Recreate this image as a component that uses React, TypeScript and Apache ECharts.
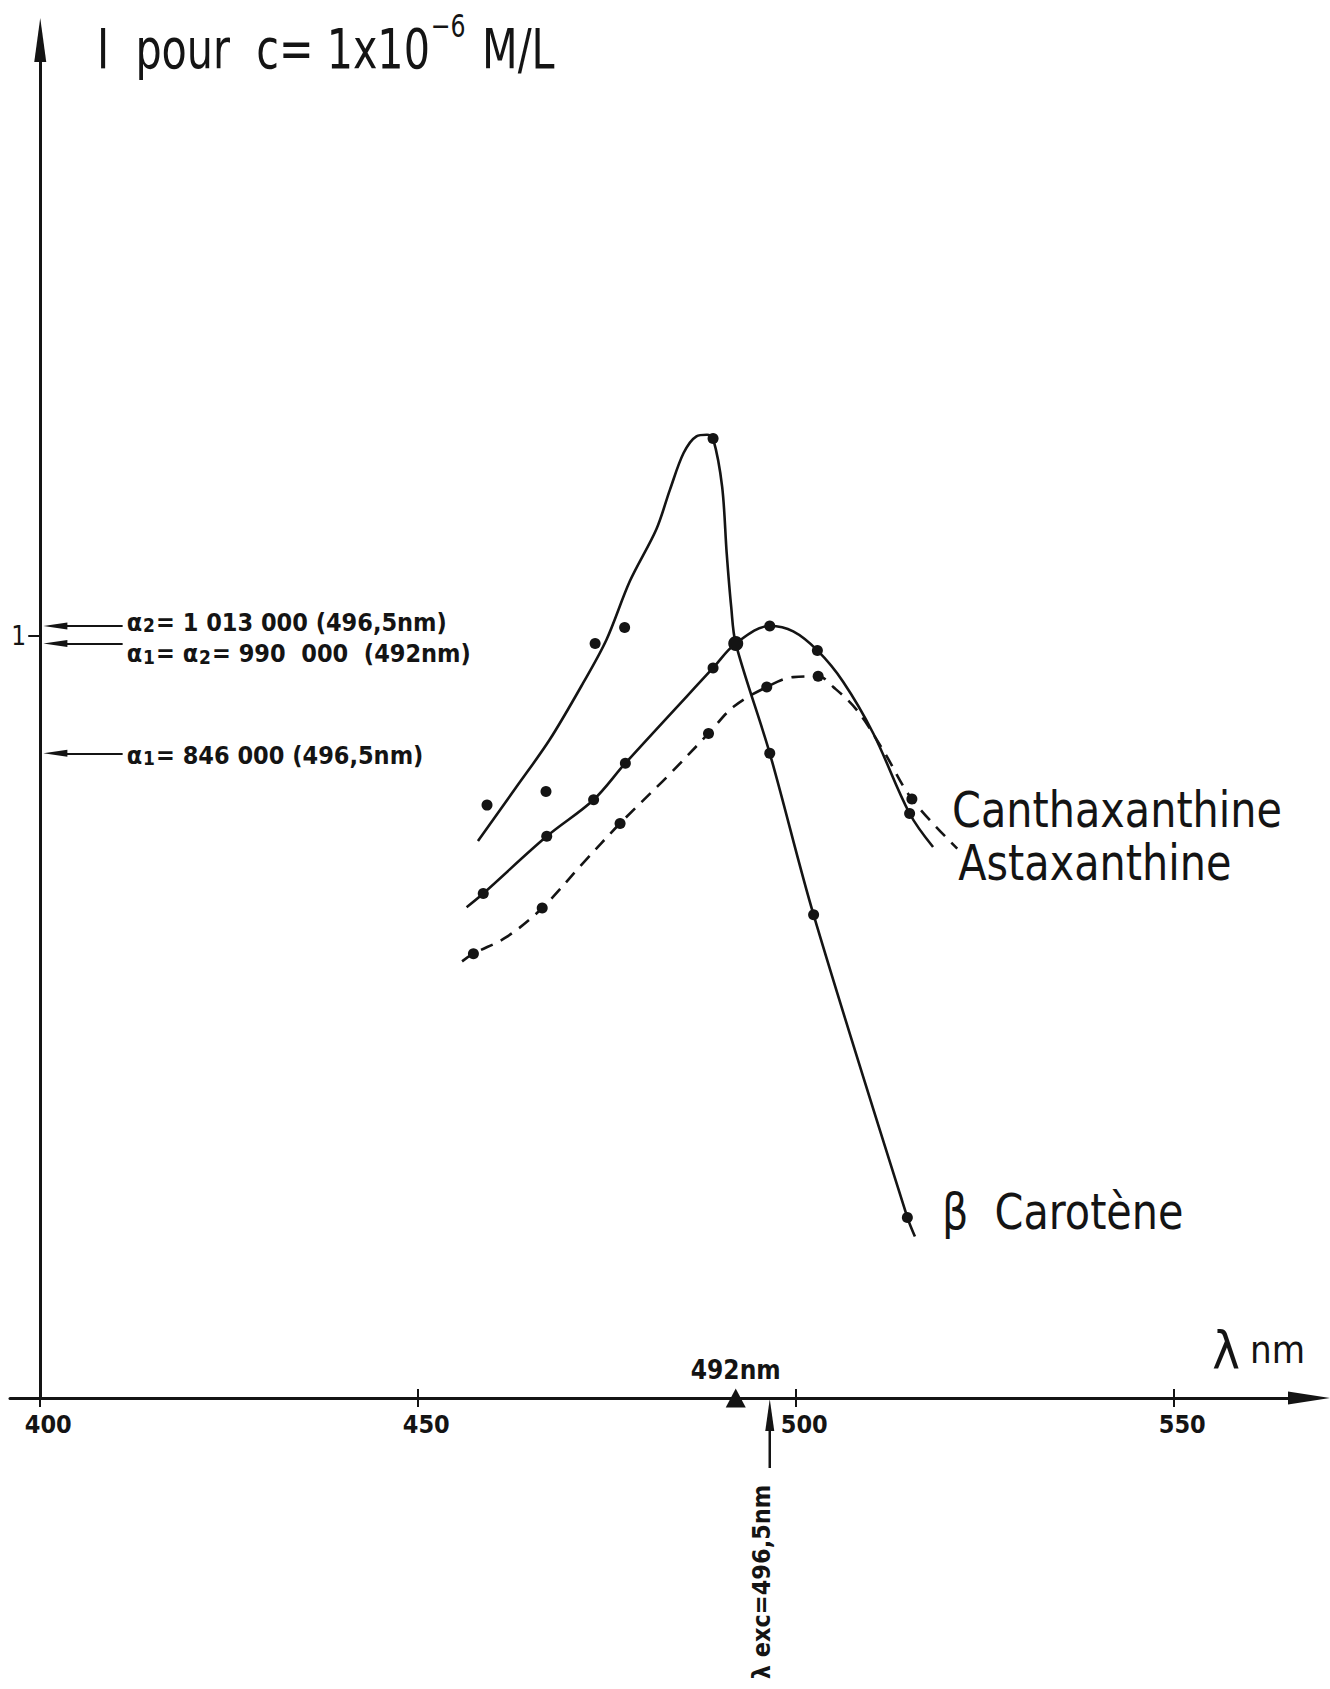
import React, { useEffect, useRef } from "react";
import * as echarts from "echarts";

const FONT = "'DejaVu Sans Condensed', 'DejaVu Sans', sans-serif";
const INK = "#141414";

const WIDTH = 1330;
const HEIGHT = 1689;

// Axis ranges: wavelength (nm) and intensity in units of 1 000 000
const X_MIN = 396;
const X_MAX = 567.83;
const Y_MAX = 1.782;

const xTicks = [400, 450, 500, 550];
const yTicks = [1];

// Smoothed spectra, [wavelength nm, intensity]
const betaCaroteneCurve: number[][] = [
  [457.9, 0.731], [463.0, 0.802], [467.4, 0.864], [471.8, 0.938], [474.9, 0.995],
  [478.0, 1.072], [481.5, 1.14], [483.3, 1.192], [485.1, 1.24], [486.8, 1.262],
  [488.2, 1.264], [489.0, 1.259], [490.2, 1.196], [490.8, 1.109], [491.4, 1.038],
  [492.0, 0.99], [496.5, 0.846], [502.3, 0.634], [514.7, 0.237], [515.7, 0.212],
];
const canthaxanthineCurve: number[][] = [
  [456.4, 0.644], [458.6, 0.662], [467.0, 0.737], [473.2, 0.785], [477.4, 0.833],
  [489.0, 0.958], [492.0, 0.99], [496.5, 1.013], [499.6, 1.006], [502.8, 0.981],
  [506.2, 0.94], [510.2, 0.872], [515.0, 0.767], [518.1, 0.723],
];
const astaxanthineCurve: number[][] = [
  [455.8, 0.573], [457.3, 0.583], [461.7, 0.605], [466.4, 0.643], [471.8, 0.702],
  [476.7, 0.754], [482.9, 0.815], [488.4, 0.872], [491.7, 0.907], [496.1, 0.933],
  [499.6, 0.946], [502.9, 0.947], [504.9, 0.933], [508.0, 0.903], [511.5, 0.85],
  [515.3, 0.786], [521.3, 0.721],
];

// Measured points
const betaCaroteneDots: number[][] = [
  [459.1, 0.778], [466.9, 0.796], [473.4, 0.99], [477.3, 1.011], [489.0, 1.259],
  [496.5, 0.846], [502.3, 0.634], [514.7, 0.237],
];
const canthaxanthineDots: number[][] = [
  [458.6, 0.662], [467.0, 0.737], [473.2, 0.785], [477.4, 0.833], [489.0, 0.958],
  [496.5, 1.013], [502.8, 0.981], [515.0, 0.767],
];
const astaxanthineDots: number[][] = [
  [457.3, 0.583], [466.4, 0.643], [476.7, 0.754], [488.4, 0.872], [496.1, 0.933],
  [502.9, 0.947], [515.3, 0.786],
];

// Isosbestic crossing and excitation wavelength
const crossing = [492, 0.99];
const excitation = 496.5;

// Absorption coefficients pointed out on the intensity axis
const alphaValues = [1.013, 0.99, 0.846];
const alphaTexts = [
  "α{s|2}= 1 013 000 (496,5nm)",
  "α{s|1}= α{s|2}= 990  000  (492nm)",
  "α{s|1}= 846 000 (496,5nm)",
];
const alphaTextShift = [-4, 10, 2];
const ALPHA_ARROW_FROM = 410.9;
const ALPHA_ARROW_TO = 402;

const seriesNames = ["β  Carotène", "Canthaxanthine", "Astaxanthine"];

export default function App() {
  const ref = useRef<HTMLDivElement>(null);

  useEffect(() => {
    const el = ref.current;
    if (!el) return;
    const chart = echarts.init(el, null, { renderer: "svg" });

    const grid = { left: 10, right: 21, top: 40, bottom: 291 };
    const plotW = WIDTH - grid.left - grid.right;
    const pxPerNm = plotW / (X_MAX - X_MIN);
    const yAxisOffset = -(xTicks[0] - X_MIN) * pxPerNm;

    const lineSeries = (name: string, data: number[][], dashed: boolean, smooth: number) => ({
      name,
      type: "line",
      data,
      smooth,
      showSymbol: false,
      symbol: "none",
      silent: true,
      lineStyle: { color: INK, width: 2.6, type: dashed ? [13, 9] : "solid", opacity: 1 },
      z: 2,
    });
    const dotSeries = (name: string, data: number[][], size = 11) => ({
      name,
      type: "scatter",
      data,
      symbol: "circle",
      symbolSize: size,
      silent: true,
      itemStyle: { color: INK, opacity: 1 },
      z: 3,
    });

    const smallText = { fontFamily: FONT, fontWeight: "bold", color: INK };

    const option: any = {
      animation: false,
      backgroundColor: "#ffffff",
      grid: { ...grid, containLabel: false },
      xAxis: [
        {
          type: "value",
          min: X_MIN,
          max: X_MAX,
          position: "bottom",
          axisLine: {
            show: true,
            onZero: false,
            symbol: ["none", "triangle"],
            symbolSize: [13, 42],
            lineStyle: { color: INK, width: 3 },
          },
          axisTick: { show: true, customValues: xTicks, length: 9, lineStyle: { color: INK, width: 2 } },
          axisLabel: {
            ...smallText,
            customValues: xTicks,
            margin: 14,
            fontSize: 25,
            padding: [0, 0, 0, 16],
          },
          splitLine: { show: false },
          name: "{l|λ}{n|nm}",
          nameLocation: "end",
          nameGap: -4,
          nameTextStyle: {
            align: "right",
            verticalAlign: "bottom",
            padding: [0, 0, 23, 0],
            rich: {
              l: { fontSize: 52, lineHeight: 50, fontFamily: FONT, color: INK, padding: [0, 10, 0, 0] },
              n: { fontSize: 38, lineHeight: 50, fontFamily: FONT, color: INK },
            },
          },
        },
        {
          type: "value",
          min: X_MIN,
          max: X_MAX,
          position: "bottom",
          axisLine: { show: false, onZero: false },
          axisTick: { show: true, inside: true, customValues: xTicks, length: 9, lineStyle: { color: INK, width: 2 } },
          axisLabel: { show: false },
          splitLine: { show: false },
        },
      ],
      yAxis: {
        type: "value",
        min: 0,
        max: Y_MAX,
        position: "left",
        offset: yAxisOffset,
        axisLine: {
          show: true,
          onZero: false,
          symbol: ["none", "triangle"],
          symbolSize: [12, 44],
          lineStyle: { color: INK, width: 3 },
        },
        axisTick: { show: true, customValues: yTicks, length: 12, lineStyle: { color: INK, width: 2 } },
        axisLabel: { fontFamily: FONT, color: INK, customValues: yTicks, margin: 14, fontSize: 26 },
        splitLine: { show: false },
      },
      series: [
        lineSeries(seriesNames[0], betaCaroteneCurve, false, 0.32),
        dotSeries(seriesNames[0], betaCaroteneDots),
        lineSeries(seriesNames[1], canthaxanthineCurve, false, 0.35),
        dotSeries(seriesNames[1], canthaxanthineDots),
        lineSeries(seriesNames[2], astaxanthineCurve, true, 0.35),
        dotSeries(seriesNames[2], astaxanthineDots),
        {
          ...dotSeries("crossing", [crossing], 15),
          z: 4,
          markPoint: {
            silent: true,
            animation: false,
            data: [
              {
                coord: [crossing[0], 0],
                symbol: "triangle",
                symbolSize: [20, 19],
                itemStyle: { color: INK },
                label: {
                  ...smallText,
                  show: true,
                  position: "top",
                  distance: 6,
                  formatter: `${crossing[0]}nm`,
                  fontSize: 26,
                },
              },
            ],
          },
          markLine: {
            silent: true,
            animation: false,
            lineStyle: { color: INK, width: 2, type: "solid" },
            label: { show: false },
            data: alphaValues.map((v) => [
              { coord: [ALPHA_ARROW_FROM, v], symbol: "none" },
              { coord: [ALPHA_ARROW_TO, v], symbol: "triangle", symbolSize: [7, 24] },
            ]),
          },
        },
      ],
    };

    chart.setOption(option);

    const px = (p: number[]) => chart.convertToPixel({ seriesIndex: 0 }, p) as number[];
    const last = (a: number[][]) => a[a.length - 1];
    const exc = px([excitation, 0]);
    const betaEnd = px(last(betaCaroteneCurve));
    const canthEnd = px(last(canthaxanthineCurve));
    const astaEnd = px(last(astaxanthineCurve));

    const seriesLabel = (x: number, y: number, text: string) => ({
      type: "text",
      x,
      y,
      scaleX: 0.92,
      silent: true,
      style: {
        text,
        fontSize: 50,
        fontFamily: FONT,
        fill: INK,
        textAlign: "left",
        textVerticalAlign: "middle",
      },
    });

    const alphaLabels = alphaValues.map((v, i) => {
      const p = px([ALPHA_ARROW_FROM, v]);
      return {
        type: "text",
        x: p[0] + 4,
        y: p[1] + alphaTextShift[i],
        silent: true,
        style: {
          text: alphaTexts[i],
          fontSize: 25,
          fontWeight: "bold",
          lineHeight: 25,
          fontFamily: FONT,
          fill: INK,
          textAlign: "left",
          textVerticalAlign: "middle",
          rich: {
            s: {
              fontSize: 19,
              fontWeight: "bold",
              lineHeight: 19,
              fontFamily: FONT,
              fill: INK,
              verticalAlign: "bottom",
              padding: [14, 1, 0, 1],
            },
          },
        },
      };
    });

    chart.setOption({
      graphic: [
        {
          type: "text",
          x: 97,
          y: 10,
          scaleX: 0.82,
          silent: true,
          style: {
            text: "{a|I  pour  c= 1x10}{s|−6}{a| M/L}",
            textAlign: "left",
            textVerticalAlign: "top",
            rich: {
              a: { fontSize: 56, lineHeight: 76, fontFamily: FONT, fill: INK },
              s: { fontSize: 32, lineHeight: 32, fontFamily: FONT, fill: INK, verticalAlign: "top", padding: [0, 4, 0, 1] },
            },
          },
        },
        {
          type: "line",
          silent: true,
          shape: { x1: exc[0], y1: exc[1] + 30, x2: exc[0], y2: exc[1] + 70 },
          style: { stroke: INK, lineWidth: 2.5 },
        },
        {
          type: "polygon",
          silent: true,
          shape: {
            points: [
              [exc[0], exc[1] + 1],
              [exc[0] - 4.5, exc[1] + 33],
              [exc[0] + 4.5, exc[1] + 33],
            ],
          },
          style: { fill: INK },
        },
        {
          type: "text",
          x: exc[0] - 8,
          y: exc[1] + 184,
          rotation: Math.PI / 2,
          silent: true,
          style: {
            text: `λ exc=${String(excitation).replace(".", ",")}nm`,
            fontSize: 25,
            fontWeight: "bold",
            fontFamily: FONT,
            fill: INK,
            textAlign: "center",
            textVerticalAlign: "middle",
          },
        },
        ...alphaLabels,
        seriesLabel(canthEnd[0] + 19, canthEnd[1] - 38, seriesNames[1]),
        seriesLabel(astaEnd[0] + 1, astaEnd[1] + 14, seriesNames[2]),
        seriesLabel(betaEnd[0] + 27, betaEnd[1] - 25, seriesNames[0]),
      ],
    });

    return () => chart.dispose();
  }, []);

  return (
    <div
      ref={ref}
      style={{ position: "absolute", left: 0, top: 0, width: WIDTH, height: HEIGHT, background: "#fff" }}
    />
  );
}
